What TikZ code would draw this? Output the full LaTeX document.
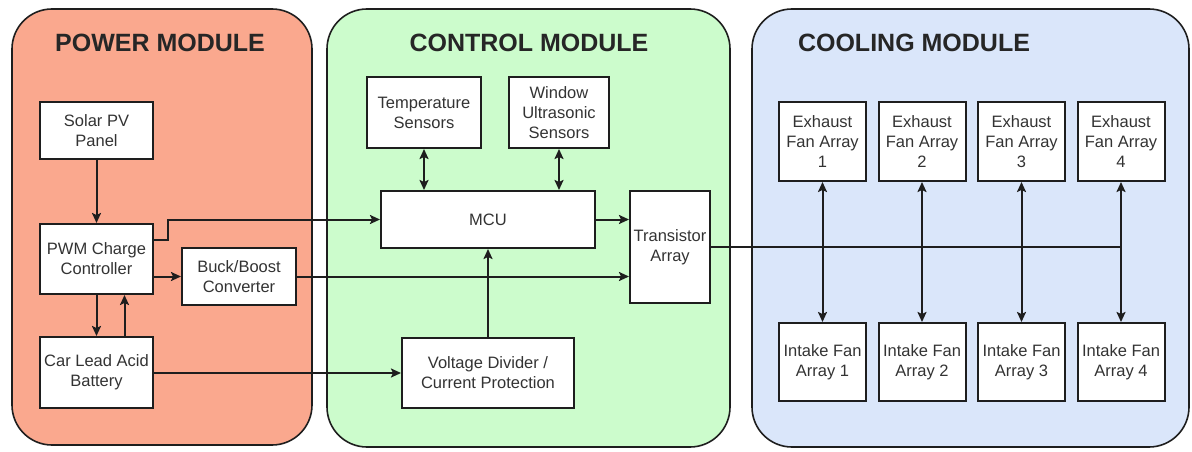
\documentclass[tikz,border=0pt]{standalone}
\usepackage{fontspec}
\setmainfont{Liberation Sans}
\usetikzlibrary{arrows.meta}
\definecolor{powerfill}{RGB}{250,168,142}
\definecolor{controlfill}{RGB}{204,252,204}
\definecolor{coolingfill}{RGB}{218,230,250}
\definecolor{linecol}{RGB}{30,30,30}
\begin{document}
\begin{tikzpicture}[x=1pt,y=-1pt,
    module/.style={draw=linecol, line width=1.6pt, rounded corners=40pt},
    title/.style={font=\fontsize{25}{28}\selectfont\bfseries, text=black!85},
    block/.style={draw=linecol, fill=white, line width=2pt, align=center, inner sep=1pt,
        font=\fontsize{16.5}{20}\selectfont, text=black!80},
    wire/.style={draw=linecol, line width=2pt},
    arr/.style={wire, -{Stealth[length=10pt,width=9pt,inset=2pt]}},
    darr/.style={wire, {Stealth[length=10pt,width=9pt,inset=2pt]}-{Stealth[length=10pt,width=9pt,inset=2pt]}}]
\useasboundingbox (0,0) rectangle (1192,452);
\fill[white] (0,0) rectangle (1192,452);
% modules
\draw[module, fill=powerfill] (12,9) rectangle (312,445);
\draw[module, fill=controlfill] (327,9) rectangle (730,447);
\draw[module, fill=coolingfill] (752,9) rectangle (1189,447);
\node[title] (ptitle) at (160,43) {POWER MODULE};
\node[title] (ctitle) at (529,43) {CONTROL MODULE};
\node[title] (ktitle) at (914,43) {COOLING MODULE};
% power
\node[block, minimum width=113pt, minimum height=57pt] (solar) at (96.5,130.5) {Solar PV\\Panel};
\node[block, minimum width=113pt, minimum height=70pt] (pwm) at (96.5,259) {PWM Charge\\Controller};
\node[block, minimum width=114pt, minimum height=57pt] (buck) at (239,276.5) {Buck/Boost\\Converter};
\node[block, minimum width=113pt, minimum height=71pt] (battery) at (96.5,372.5) {Car Lead Acid\\Battery};
% control
\node[block, minimum width=114pt, minimum height=71pt] (temp) at (424,112.5) {Temperature\\Sensors};
\node[block, minimum width=100pt, minimum height=71pt] (window) at (559,112.5) {Window\\Ultrasonic\\Sensors};
\node[block, minimum width=214pt, minimum height=57pt] (mcu) at (488,219.5) {MCU};
\node[block, minimum width=80pt, minimum height=112pt] (trans) at (670,247) {Transistor\\Array};
\node[block, minimum width=172pt, minimum height=70pt] (vdiv) at (488,373) {Voltage Divider /\\Current Protection};
% cooling
\foreach \i/\x in {1/822.5,2/922,3/1021.5,4/1121}{
  \node[block, minimum width=87pt, minimum height=79pt] (ex\i) at (\x,141.5) {Exhaust\\Fan Array\\\i};
  \node[block, minimum width=87pt, minimum height=78pt] (in\i) at (\x,362) {Intake Fan\\Array \i};
}
% connections
\draw[arr] (solar) -- (pwm);
\draw[arr] (pwm) -- (battery);
\draw[arr] ([xshift=28pt]battery.north) -- ([xshift=28pt]pwm.south);
\draw[arr] (pwm.east |- buck.west) -- (buck.west);
\draw[arr] ([yshift=19pt]pwm.east) -- ++(14,0) |- (mcu.west);
\draw[arr] (buck.east) -- (buck.east -| trans.west);
\draw[arr] (mcu.east) -- (mcu.east -| trans.west);
\draw[arr] (battery.east |- vdiv.west) -- (vdiv.west);
\draw[arr] (vdiv) -- (mcu);
\draw[darr] (temp.south) -- (temp.south |- mcu.north);
\draw[darr] (window.south) -- (window.south |- mcu.north);
\draw[wire] (trans.east) -- (trans.east -| ex4.south);
\foreach \i in {1,...,4}
  \draw[darr] (ex\i) -- (in\i);
\end{tikzpicture}
\end{document}
